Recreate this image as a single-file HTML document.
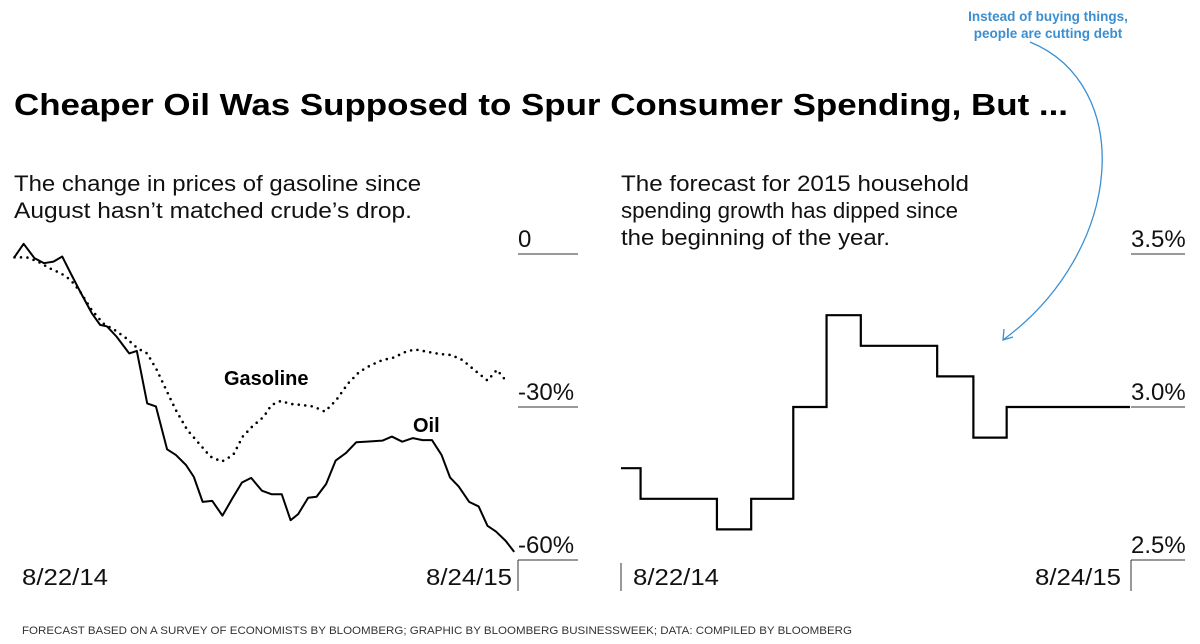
<!DOCTYPE html>
<html><head><meta charset="utf-8"><style>
html,body{margin:0;padding:0;background:#fff;}
svg{display:block;font-family:"Liberation Sans",Arial,sans-serif;}
</style></head><body>
<svg id="chart" width="1200" height="644" viewBox="0 0 1200 644" xmlns="http://www.w3.org/2000/svg">
<text x="14" y="115" font-size="31" font-weight="bold" fill="#000" textLength="1054" lengthAdjust="spacingAndGlyphs">Cheaper Oil Was Supposed to Spur Consumer Spending, But ...</text>
<g fill="#3b8fd0" font-size="13.5" font-weight="bold" text-anchor="middle">
<text x="1048" y="21">Instead of buying things,</text>
<text x="1048" y="38">people are cutting debt</text>
</g>
<path d="M1030,42 C1135,85 1125,250 1003,340" fill="none" stroke="#3b8fd0" stroke-width="1.3"/>
<path d="M1004,329 L1003,340 L1013,337" fill="none" stroke="#3b8fd0" stroke-width="1.3"/>
<g font-size="22.5" fill="#111">
<text x="14" y="191" textLength="407" lengthAdjust="spacingAndGlyphs">The change in prices of gasoline since</text>
<text x="14" y="218" textLength="398" lengthAdjust="spacingAndGlyphs">August hasn’t matched crude’s drop.</text>
</g>
<g font-size="22.5" fill="#111">
<text x="621" y="191" textLength="348" lengthAdjust="spacingAndGlyphs">The forecast for 2015 household</text>
<text x="621" y="218" textLength="337" lengthAdjust="spacingAndGlyphs">spending growth has dipped since</text>
<text x="621" y="245" textLength="269" lengthAdjust="spacingAndGlyphs">the beginning of the year.</text>
</g>
<g id="left"></g>
<g id="right"></g>
<text x="22" y="634" font-size="11" fill="#333" textLength="830" lengthAdjust="spacingAndGlyphs">FORECAST BASED ON A SURVEY OF ECONOMISTS BY BLOOMBERG; GRAPHIC BY BLOOMBERG BUSINESSWEEK; DATA: COMPILED BY BLOOMBERG</text>
</svg>
<script>
const oilWeeks=[0,0.95,2.07,3.06,4.06,4.97,5.85,6.84,8.04,8.91,9.63,10.62,11.94,12.73,13.81,14.72,15.88,16.79,17.86,18.66,19.58,20.57,21.64,22.68,23.67,24.63,25.74,26.74,27.81,28.73,29.52,30.56,31.43,32.43,33.42,34.5,35.57,36.69,38.28,39.27,40.35,41.46,42.46,43.45,44.44,45.32,46.23,47.31,48.3,49.22,50.09,51.09,52];
const oilValues=[-0.6,2.0,-0.8,-1.8,-1.5,-0.5,-3.8,-7.4,-11.6,-13.9,-14.2,-16.2,-19.5,-19.0,-29.3,-29.9,-38.3,-39.4,-41.4,-43.7,-48.6,-48.4,-51.3,-47.9,-44.8,-43.9,-46.4,-47.1,-47.1,-52.2,-51.0,-47.8,-47.6,-45.1,-40.5,-39.0,-36.9,-36.8,-36.6,-35.8,-36.8,-36.1,-36.5,-36.5,-39.4,-43.8,-45.6,-48.6,-49.5,-53.3,-54.4,-56.2,-58.4];
const gasWeeks=[0,1.27,2.47,3.66,4.85,5.85,6.84,8.04,9.23,10.42,11.62,12.81,13.81,14.8,15.8,16.79,17.98,19.18,20.37,21.57,22.76,23.75,24.75,25.94,26.74,27.73,28.73,29.92,31.11,32.31,33.5,34.7,35.89,37.08,38.28,39.47,40.67,41.66,43.05,44.25,45.44,46.63,47.83,49.22,50.21,51.21];
const gasValues=[-0.65,-0.65,-1.5,-2.8,-3.8,-5.1,-7.4,-11.0,-13.6,-14.9,-16.5,-18.5,-19.5,-22.7,-26.7,-30.6,-34.5,-37.1,-39.7,-40.7,-39.4,-35.8,-33.8,-31.9,-29.6,-28.8,-29.4,-29.6,-29.9,-30.9,-28.6,-25.4,-23.1,-21.8,-20.8,-20.3,-19.2,-18.7,-19.2,-19.6,-19.8,-20.8,-22.7,-24.8,-22.7,-25.0];
const leftTicks=[0,-30,-60];
const leftTickLabels=["0","-30%","-60%"];
const stepWeeks=[0,2.0,9.8,13.3,17.6,21,24.5,32.3,36,39.4,52];
const stepValues=[2.8,2.7,2.6,2.7,3.0,3.3,3.2,3.1,2.9,3.0];
const rightTicks=[3.5,3.0,2.5];
const rightTickLabels=["3.5%","3.0%","2.5%"];
const dateLabels=["8/22/14","8/24/15"];

const NS="http://www.w3.org/2000/svg";
function mk(parent,tag,attrs,text){const e=document.createElementNS(NS,tag);for(const k in attrs)e.setAttribute(k,attrs[k]);if(text!=null)e.textContent=text;parent.appendChild(e);return e;}
const lx=w=>14.5+w/52*499.7, ly=v=>254-v*5.1;
const rx=w=>621+w/52*509, ry=v=>254+(3.5-v)*306;

const L=document.getElementById('left');
leftTicks.forEach((t,i)=>{
  const ln=mk(L,'line',{x1:518,x2:578,y1:ly(t),y2:ly(t),stroke:'#333','stroke-width':1});
  
  
  const tx=mk(L,'text',{x:518,y:ly(t)-7,'font-size':24,fill:'#111'},leftTickLabels[i]);
  
  
});
const lv=mk(L,'line',{x1:518,x2:518,y1:ly(-60),y2:591,stroke:'#333','stroke-width':1});


const g=mk(L,'polyline',{points:gasWeeks.map((w,i)=>lx(w)+','+ly(gasValues[i])).join(' '),fill:'none',stroke:'#000','stroke-width':2.6,'stroke-dasharray':'0 6.5','stroke-linecap':'round'});


const o=mk(L,'polyline',{points:oilWeeks.map((w,i)=>lx(w)+','+ly(oilValues[i])).join(' '),fill:'none',stroke:'#000','stroke-width':2,'stroke-linejoin':'round'});


const gl=mk(L,'text',{x:224,y:385,'font-size':20,'font-weight':'bold',fill:'#000'},'Gasoline');


const ol=mk(L,'text',{x:413,y:432,'font-size':20,'font-weight':'bold',fill:'#000'},'Oil');


const d1=mk(L,'text',{x:22,y:585,'font-size':23,fill:'#111',textLength:86,lengthAdjust:'spacingAndGlyphs'},dateLabels[0]);


const d2=mk(L,'text',{x:426,y:585,'font-size':23,fill:'#111',textLength:86,lengthAdjust:'spacingAndGlyphs'},dateLabels[1]);



const R=document.getElementById('right');
rightTicks.forEach((t,i)=>{
  const ln=mk(R,'line',{x1:1131,x2:1185,y1:ry(t),y2:ry(t),stroke:'#333','stroke-width':1});
  
  
  const tx=mk(R,'text',{x:1131,y:ry(t)-7,'font-size':24,fill:'#111'},rightTickLabels[i]);
  
  
});
const rv=mk(R,'line',{x1:1131,x2:1131,y1:ry(2.5),y2:591,stroke:'#333','stroke-width':1});


const rl=mk(R,'line',{x1:621,x2:621,y1:563,y2:591,stroke:'#333','stroke-width':1});


let pts=[];
stepValues.forEach((v,i)=>{pts.push(rx(stepWeeks[i])+','+ry(v));pts.push(rx(stepWeeks[i+1])+','+ry(v));});
const s=mk(R,'polyline',{points:pts.join(' '),fill:'none',stroke:'#000','stroke-width':2.2});


const d3=mk(R,'text',{x:633,y:585,'font-size':23,fill:'#111',textLength:86,lengthAdjust:'spacingAndGlyphs'},dateLabels[0]);


const d4=mk(R,'text',{x:1035,y:585,'font-size':23,fill:'#111',textLength:86,lengthAdjust:'spacingAndGlyphs'},dateLabels[1]);


</script>
</body></html>
